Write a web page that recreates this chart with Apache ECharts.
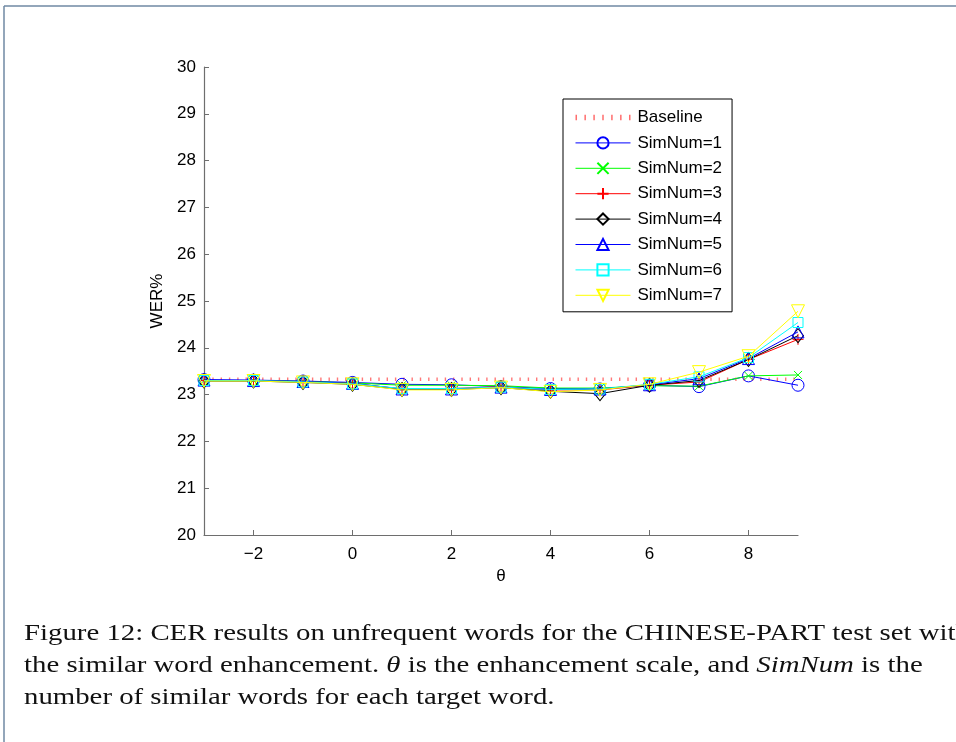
<!DOCTYPE html>
<html>
<head>
<meta charset="utf-8">
<script src="https://cdn.jsdelivr.net/npm/echarts@6/dist/echarts.min.js"></script>
<style>
  html, body { margin: 0; padding: 0; background: #fff; }
  #chart { width: 956px; height: 742px; }
</style>
</head>
<body>
<div id="chart"></div>
<script>
// Enhancement scale values on the x axis
const thetas = [-3, -2, -1, 0, 1, 2, 3, 4, 5, 6, 7, 8, 9];

// WER% for each number of similar words
const baseline = [23.33, 23.33, 23.33, 23.33, 23.33, 23.33, 23.33, 23.33, 23.33, 23.33, 23.33, 23.33, 23.33];
const simNum1 = [23.32, 23.31, 23.29, 23.26, 23.22, 23.21, 23.17, 23.13, 23.12, 23.20, 23.17, 23.40, 23.20];
const simNum2 = [23.30, 23.30, 23.28, 23.25, 23.20, 23.20, 23.19, 23.14, 23.14, 23.19, 23.18, 23.40, 23.42];
const simNum3 = [23.30, 23.30, 23.27, 23.24, 23.12, 23.13, 23.17, 23.10, 23.10, 23.20, 23.27, 23.75, 24.18];
const simNum4 = [23.29, 23.29, 23.26, 23.22, 23.11, 23.11, 23.15, 23.07, 23.02, 23.20, 23.30, 23.75, 24.26];
const simNum5 = [23.31, 23.30, 23.28, 23.24, 23.12, 23.12, 23.16, 23.11, 23.12, 23.21, 23.34, 23.77, 24.34];
const simNum6 = [23.30, 23.30, 23.27, 23.23, 23.13, 23.13, 23.16, 23.11, 23.12, 23.22, 23.38, 23.79, 24.54];
const simNum7 = [23.29, 23.29, 23.26, 23.22, 23.10, 23.10, 23.15, 23.06, 23.10, 23.22, 23.48, 23.82, 24.78];

// Tick labels
const xTicks = [-2, 0, 2, 4, 6, 8];
const yTicks = [20, 21, 22, 23, 24, 25, 26, 27, 28, 29, 30];

const seriesNames = ['Baseline', 'SimNum=1', 'SimNum=2', 'SimNum=3', 'SimNum=4', 'SimNum=5', 'SimNum=6', 'SimNum=7'];
const seriesValues = [baseline, simNum1, simNum2, simNum3, simNum4, simNum5, simNum6, simNum7];

const colors = ['#ff3030', '#0000ff', '#00ff00', '#ff0000', '#000000', '#0000ff', '#00ffff', '#ffff00'];
const crossPath = 'path://M0,0L10,10M10,0L0,10';
const plusPath = 'path://M5,0L5,10M0,5L10,5';
const markers = [
  { symbol: 'none' },
  { symbol: 'circle', size: 12 },
  { symbol: crossPath, size: 8 },
  { symbol: plusPath, size: 11 },
  { symbol: 'diamond', size: [11, 14] },
  { symbol: 'triangle', size: 12 },
  { symbol: 'rect', size: 10 },
  { symbol: 'triangle', size: 13, rotate: 180 }
];

// dotted stroke used as the legend icon of the baseline
let dotPath = 'path://';
for (let i = 0; i < 7; i++) {
  const x = i * 8.3;
  dotPath += 'M' + x.toFixed(1) + ',0h1.4v5h-1.4Z';
}

function pairs(vals) {
  return thetas.map((t, i) => [t, vals[i]]);
}

const series = seriesNames.map((name, k) => {
  const m = markers[k];
  const s = {
    name: name,
    type: 'line',
    data: pairs(seriesValues[k]),
    symbol: m.symbol,
    symbolSize: m.size || 0,
    showSymbol: m.symbol !== 'none',
    animation: false,
    z: 2 + k,
    lineStyle: { color: colors[k], width: 1 },
    itemStyle: { color: 'rgba(0,0,0,0)', borderColor: colors[k], borderWidth: 1 },
    emphasis: { disabled: true }
  };
  if (m.rotate) s.symbolRotate = m.rotate;
  if (k === 0) {
    s.lineStyle = { color: colors[k], width: 3.5, type: [1.4, 6.9], opacity: 0.65 };
    s.itemStyle = { color: colors[k] };
    s.z = 1;
  }
  return s;
});

const legendData = seriesNames.map((name, k) =>
  k === 0 ? { name: name, icon: dotPath, itemStyle: { color: 'rgba(255,48,48,0.7)', borderWidth: 0 } } : { name: name }
);

const sans = 'Liberation Sans, Arial, sans-serif';
const axisFont = { fontFamily: sans, fontSize: 17, color: '#000' };
const serifFont = '"Liberation Serif", "DejaVu Serif", serif';

const chart = echarts.init(document.getElementById('chart'), null, { renderer: 'canvas' });
chart.setOption({
  backgroundColor: '#ffffff',
  animation: false,
  grid: { left: 204, right: 158, top: 67, bottom: 207, containLabel: false },
  xAxis: {
    type: 'value',
    min: -3,
    max: 9,
    name: 'θ',
    nameLocation: 'middle',
    nameGap: 32,
    nameTextStyle: axisFont,
    axisLine: { show: true, onZero: false, lineStyle: { color: '#6e6e6e', width: 1.2 } },
    axisTick: { show: true, inside: true, length: 5, customValues: xTicks, lineStyle: { color: '#6e6e6e' } },
    axisLabel: {
      customValues: xTicks,
      margin: 11,
      ...axisFont,
      formatter: v => (v < 0 ? '\u2212' + Math.abs(v) : String(v))
    },
    splitLine: { show: false }
  },
  yAxis: {
    type: 'value',
    min: 20,
    max: 30,
    interval: 1,
    name: 'WER%',
    nameLocation: 'middle',
    nameGap: 36,
    nameRotate: 90,
    nameTextStyle: axisFont,
    axisLine: { show: true, onZero: false, lineStyle: { color: '#6e6e6e', width: 1.2 } },
    axisTick: { show: true, inside: true, length: 5, lineStyle: { color: '#6e6e6e' } },
    axisLabel: { margin: 8, ...axisFont, formatter: v => (yTicks.includes(v) ? String(v) : '') },
    splitLine: { show: false }
  },
  legend: {
    orient: 'vertical',
    left: 563,
    top: 99,
    padding: [10, 10, 8, 12],
    itemWidth: 55,
    itemHeight: 14,
    itemGap: 8.4,
    backgroundColor: '#ffffff',
    borderColor: '#000000',
    borderWidth: 1,
    lineStyle: { width: 1 },
    textStyle: { fontFamily: sans, fontSize: 17, color: '#000', padding: [0, 0, 0, 2] },
    data: legendData,
    selectedMode: false
  },
  series: series,
  graphic: [
    // page frame
    { type: 'line', shape: { x1: 4, y1: 6, x2: 956, y2: 6 }, style: { stroke: '#6f88a3', lineWidth: 1.5 } },
    { type: 'line', shape: { x1: 4, y1: 6, x2: 4, y2: 742 }, style: { stroke: '#6f88a3', lineWidth: 1.5 } },
    // caption
    {
      type: 'text', left: 24, top: 622, scaleX: 1.2,
      style: {
        text: 'Figure 12: CER results on unfrequent words for the CHINESE-PART test set with',
        font: '24px ' + serifFont, fill: '#111'
      }
    },
    {
      type: 'text', left: 24, top: 654, scaleX: 1.2,
      style: {
        text: '{r|the similar word enhancement. }{i|θ}{r| is the enhancement scale, and }{i|SimNum}{r| is the}',
        font: '24px ' + serifFont, fill: '#111',
        rich: {
          r: { font: '24px ' + serifFont, fill: '#111' },
          i: { font: 'italic 24px ' + serifFont, fill: '#111' }
        }
      }
    },
    {
      type: 'text', left: 24, top: 686, scaleX: 1.2,
      style: {
        text: 'number of similar words for each target word.',
        font: '24px ' + serifFont, fill: '#111'
      }
    }
  ]
});
</script>
</body>
</html>
